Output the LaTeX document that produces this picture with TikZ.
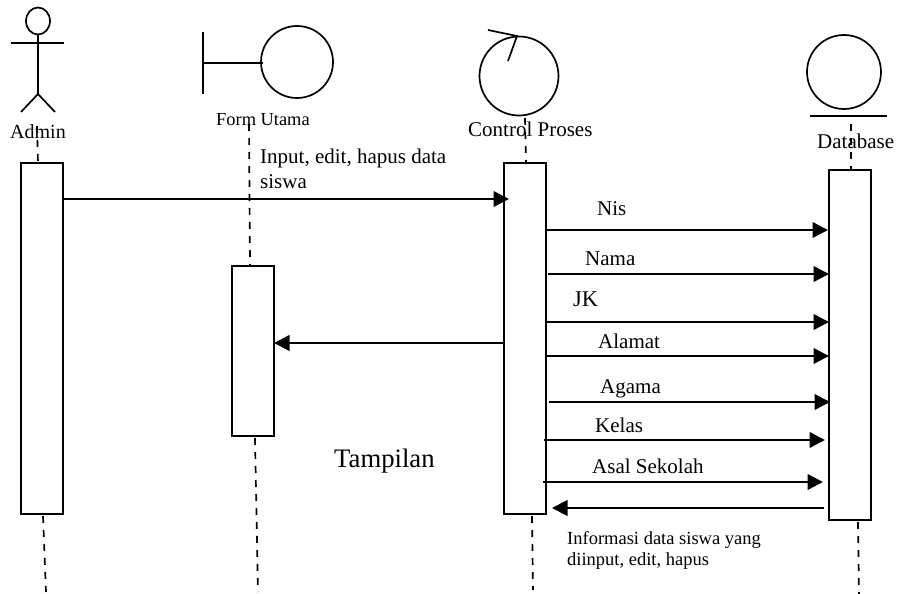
\documentclass[tikz,border=0pt]{standalone}
\usepackage{fontspec}
\setmainfont{Liberation Serif}
\usetikzlibrary{arrows.meta}
\newcommand{\fsz}[1]{\fontsize{#1}{#1}\selectfont}
\tikzset{
  bar/.style={draw=black,line width=1.8pt,fill=white,minimum width=42pt,inner sep=0pt,outer sep=0pt,anchor=north west},
  icon/.style={draw=black,line width=1.7pt},
  life/.style={line width=1.7pt,dash pattern=on 7pt off 7pt},
  msg/.style={line width=2.4pt,-{Triangle[length=15.5pt,width=15.5pt]}},
  lbl/.style={inner sep=0pt,anchor=base west,align=left,font=\fsz{21}},
}
\begin{document}
\begin{tikzpicture}[x=1pt,y=-1pt]
\useasboundingbox (0,0) rectangle (900,594);
% lifeline ends
\coordinate (aT) at (37,126); \coordinate (aU) at (38,163); \coordinate (aB) at (43,516); \coordinate (aE) at (46,592);
\coordinate (fT) at (249,124); \coordinate (fU) at (250,266); \coordinate (fB) at (255,438); \coordinate (fE) at (258,592);
\coordinate (cT) at (525,118); \coordinate (cU) at (526,163); \coordinate (cB) at (532,516); \coordinate (cE) at (533,590);
\coordinate (dT) at (851,124); \coordinate (dU) at (851,170); \coordinate (dB) at (858,522); \coordinate (dE) at (859,594);
% labels
\node[lbl,font=\fsz{20}] (tAdmin) at (10,139) {Admin};
\node[lbl,font=\fsz{18.4}] (tForm) at (216,125) {Form Utama};
\node[lbl] (tCtrl) at (468,136) {Control Proses};
\node[lbl] (tDb) at (817,148) {Database};
\node[lbl] (tInput) at (260,163) {Input, edit, hapus data};
\node[lbl] (tSiswa) at (260,188) {siswa};
\node[lbl] (tNis) at (597,215) {Nis};
\node[lbl] (tNama) at (585,265) {Nama};
\node[lbl,font=\fsz{22.5}] (tJK) at (573,306) {JK};
\node[lbl] (tAlamat) at (598,348) {Alamat};
\node[lbl] (tAgama) at (600,393) {Agama};
\node[lbl] (tKelas) at (595,432) {Kelas};
\node[lbl] (tAsal) at (592,473) {Asal Sekolah};
\node[lbl,font=\fsz{26.7}] (tTamp) at (334,467) {Tampilan};
\node[lbl,font=\fsz{18.5}] (tInfo) at (567,544) {Informasi data siswa yang};
\node[lbl,font=\fsz{18.5}] (tInfo2) at (567,565) {diinput, edit, hapus};
% lifelines
\draw[life] (aT) -- (aU);
\draw[life] (fT) -- (fU);
\draw[life] (cT) -- (cU);
\draw[life] (dT) -- (dU);
\draw[life] (aB) -- (aE);
\draw[life] (fB) -- (fE);
\draw[life] (cB) -- (cE);
\draw[life] (dB) -- (dE);
% activation bars
\node[bar,minimum height=351pt] (admin) at (21,163) {};
\node[bar,minimum height=170pt] (form) at (232,266) {};
\node[bar,minimum height=351pt] (ctrl) at (504,163) {};
\node[bar,minimum height=350pt] (db) at (829,170) {};
% actor
\draw[icon] (38,21) ellipse (12 and 13.5);
\draw[icon] (11,43) -- (64,43);
\draw[icon] (38,35) -- (38,94);
\draw[icon] (21,112) -- (38,94) -- (55,112);
% boundary
\draw[icon] (203,32) -- (203,94);
\draw[icon] (203,63) -- (263,63);
\draw[icon] (297,62) circle (36);
% control
\draw[icon] (519,76) circle (39.5);
\draw[icon] (488,30) -- (517,36) -- (508,61);
% entity
\draw[icon] (844,72) circle (37);
\draw[icon] (810,116) -- (887,116);
% messages
\coordinate (m0a) at (63,199); \coordinate (m0b) at (509,199);
\draw[msg] (m0a) -- (m0b);
\coordinate (m1a) at (546,230); \coordinate (m1b) at (828,230);
\draw[msg] (m1a) -- (m1b);
\coordinate (m2a) at (548,274); \coordinate (m2b) at (829,274);
\draw[msg] (m2a) -- (m2b);
\coordinate (m3a) at (546,322); \coordinate (m3b) at (829,322);
\draw[msg] (m3a) -- (m3b);
\coordinate (m4a) at (546,356); \coordinate (m4b) at (829,356);
\draw[msg] (m4a) -- (m4b);
\coordinate (m5a) at (549,402); \coordinate (m5b) at (830,402);
\draw[msg] (m5a) -- (m5b);
\coordinate (m6a) at (544,440); \coordinate (m6b) at (825,440);
\draw[msg] (m6a) -- (m6b);
\coordinate (m7a) at (543,482); \coordinate (m7b) at (823,482);
\draw[msg] (m7a) -- (m7b);
\coordinate (m8a) at (824,508); \coordinate (m8b) at (552,508);
\draw[msg] (m8a) -- (m8b);
\coordinate (m9a) at (504,343); \coordinate (m9b) at (274,343);
\draw[msg] (m9a) -- (m9b);
\end{tikzpicture}
\end{document}
